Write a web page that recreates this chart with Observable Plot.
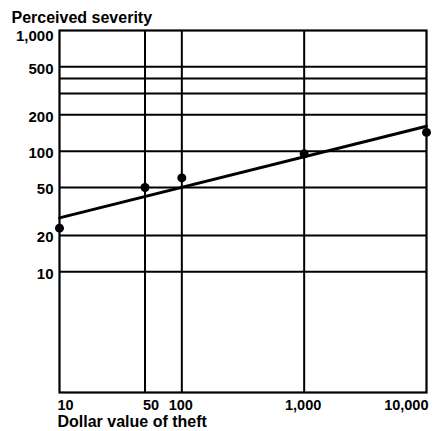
<!DOCTYPE html>
<html>
<head>
<meta charset="utf-8">
<script src="https://cdn.jsdelivr.net/npm/d3@7"></script>
<script src="https://cdn.jsdelivr.net/npm/@observablehq/plot@0.6"></script>
<style>
  html, body { margin: 0; padding: 0; background: #fff; }
</style>
</head>
<body>
<div id="chart"></div>
<script>
// Data
const dollars = [10, 50, 100, 1000, 10000];
const severity = [23, 50, 60, 95, 143];
const fitDollars = [10, 10000];
const fitSeverity = [28, 161];
const yGridValues = [10, 20, 50, 100, 200, 300, 400, 500];
const xGridValues = [50, 100, 1000];
const yTickValues = [10, 20, 50, 100, 200, 500];
const yTopTick = [1000];
const xStartTicks = [10, 50];
const xMidTicks = [100, 1000];
const xLastTick = [10000];
const yTitle = "Perceived severity";
const xTitle = "Dollar value of theft";

const points = dollars.map((d, i) => ({dollars: d, severity: severity[i]}));
const fit = fitDollars.map((d, i) => ({dollars: d, severity: fitSeverity[i]}));
const fmt = d3.format(",");
const font = "'Liberation Sans', Arial, Helvetica, sans-serif";
const yTickText = {text: fmt, fontSize: 15, fontWeight: "bold", fill: "black"};
const xTickText = {text: fmt, fontSize: 14.5, fontWeight: "bold", fill: "black", frameAnchor: "bottom", lineAnchor: "top", dy: 7};

const chart = Plot.plot({
  width: 440,
  height: 431,
  marginLeft: 59,
  marginRight: 14,
  marginTop: 30,
  marginBottom: 39,
  style: {fontFamily: font, fontSize: "15px", fontWeight: "bold", color: "black", background: "white"},
  x: {type: "log", domain: [10, 10000], axis: null},
  y: {type: "log", domain: [1, 1000], axis: null},
  marks: [
    Plot.ruleY(yGridValues, {stroke: "black", strokeWidth: 2}),
    Plot.ruleX(xGridValues, {stroke: "black", strokeWidth: 2}),
    Plot.frame({stroke: "black", strokeWidth: 2.2}),
    // y tick labels
    Plot.text(yTickValues, {...yTickText, y: d => d, frameAnchor: "left", textAnchor: "end", dx: -6, dy: 2}),
    Plot.text(yTopTick, {...yTickText, y: d => d, frameAnchor: "left", textAnchor: "end", dx: -6, dy: 6}),
    // x tick labels
    Plot.text(xStartTicks, {...xTickText, x: d => d, textAnchor: "start", dx: -2}),
    Plot.text(xMidTicks, {...xTickText, x: d => d, textAnchor: "middle", dx: -1}),
    Plot.text(xLastTick, {...xTickText, x: d => d, textAnchor: "end", dx: 2}),
    Plot.line(fit, {x: "dollars", y: "severity", stroke: "black", strokeWidth: 3}),
    Plot.dot(points, {x: "dollars", y: "severity", r: 4.5, fill: "black", stroke: "none"}),
    Plot.text([yTitle], {frameAnchor: "top-left", textAnchor: "start", dx: -48, dy: -19, fontSize: 16, fontWeight: "bold", fill: "black", style: "letter-spacing:0.3px"}),
    Plot.text([xTitle], {frameAnchor: "bottom-left", textAnchor: "start", dx: -2, dy: 34, fontSize: 16, fontWeight: "bold", fill: "black", style: "letter-spacing:0.4px"})
  ]
});
document.getElementById("chart").appendChild(chart);
</script>
</body>
</html>
